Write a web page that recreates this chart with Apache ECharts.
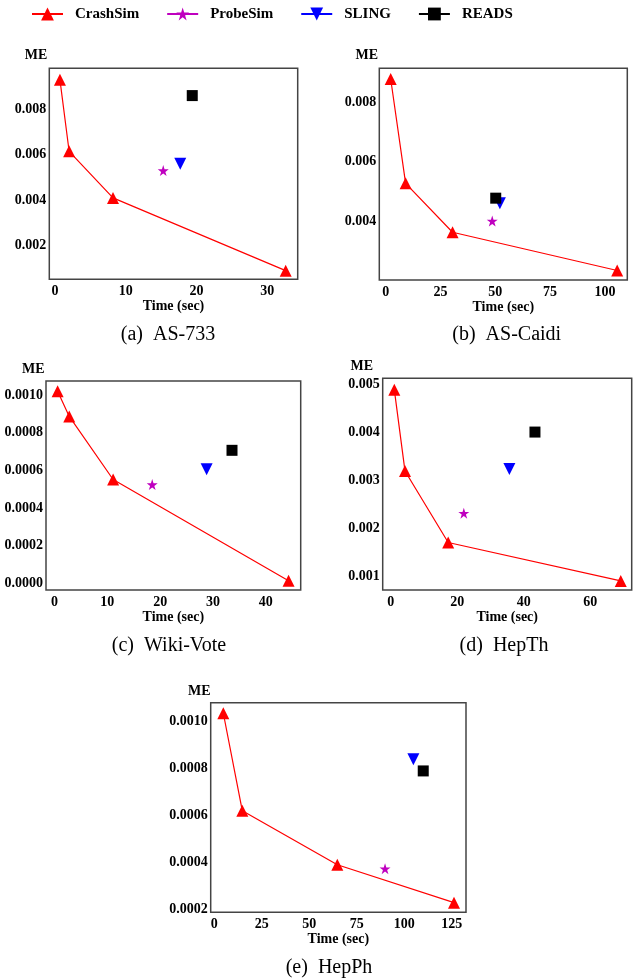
<!DOCTYPE html>
<html>
<head>
<meta charset="utf-8">
<script src="https://cdn.jsdelivr.net/npm/echarts@6/dist/echarts.min.js"></script>
<style>
html,body{margin:0;padding:0;background:#fff;}
#chart{width:640px;height:979px;}
</style>
</head>
<body>
<div id="chart"></div>
<script>
// ---- data ----
const panelNames = ['(a)  AS-733', '(b)  AS-Caidi', '(c)  Wiki-Vote', '(d)  HepTh', '(e)  HepPh'];
const seriesNames = ['CrashSim', 'ProbeSim', 'SLING', 'READS'];
const crashSimTime = [
  [0.7, 2.0, 8.2, 32.6],
  [2.3, 9.1, 30.5, 105.6],
  [0.6, 2.8, 11.1, 44.3],
  [1.1, 4.3, 17.3, 69.2],
  [4.8, 14.8, 64.8, 126.2]
];
const crashSimME = [
  [0.0093, 0.00615, 0.0041, 0.0009],
  [0.00879, 0.00527, 0.00362, 0.00233],
  [0.00102, 0.000886, 0.000551, 0.000014],
  [0.00488, 0.00319, 0.0017, 0.0009],
  [0.001036, 0.00062, 0.00039, 0.000228]
];
const probeSimTime = [15.3, 48.6, 18.5, 22.0, 89.9];
const probeSimME = [0.0053, 0.0040, 0.000524, 0.00231, 0.000373];
const slingTime = [17.7, 52.1, 28.8, 35.7, 104.8];
const slingME = [0.0056, 0.0046, 0.000605, 0.00323, 0.00084];
const readsTime = [19.4, 50.2, 33.6, 43.4, 110];
const readsME = [0.0086, 0.00477, 0.000706, 0.0040, 0.00079];
const xTickValues = [
  [0, 10, 20, 30],
  [0, 25, 50, 75, 100],
  [0, 10, 20, 30, 40],
  [0, 20, 40, 60],
  [0, 25, 50, 75, 100, 125]
];
const yTickValues = [
  [0.002, 0.004, 0.006, 0.008],
  [0.004, 0.006, 0.008],
  [0, 0.0002, 0.0004, 0.0006, 0.0008, 0.0010],
  [0.001, 0.002, 0.003, 0.004, 0.005],
  [0.0002, 0.0004, 0.0006, 0.0008, 0.0010]
];
const yDecimals = [3, 3, 4, 3, 4];

// ---- layout / style ----
const grids = [
  {left: 49.3, top: 68.3, width: 248.4, height: 211},
  {left: 379.3, top: 68.3, width: 248, height: 211.7},
  {left: 46, top: 381, width: 254.7, height: 209},
  {left: 382.7, top: 378.3, width: 249, height: 211.7},
  {left: 210.7, top: 702.7, width: 255.3, height: 209.6}
];
const xRanges = [[-0.8, 34.3], [-2.9, 110.2], [-1.6, 46.6], [-2.4, 72.5], [-1.84, 132.5]];
const yRanges = [[0.00052, 0.0098], [0.00201, 0.00915], [-0.0000355, 0.001074], [0.00071, 0.00512], [0.000187, 0.001081]];
const mePos = [[36, 55], [366.7, 55], [33.3, 369.3], [361.7, 366], [199.3, 691]];
const capPos = [[168, 335], [506.7, 335], [169, 646], [504, 646], [329, 968]];

const FONT = "'Liberation Serif', 'DejaVu Serif', serif";
const FRAME = '#444';
const STAR = 'path://M50,0 L61.2,34.5 L97.6,34.5 L68.2,55.9 L79.4,90.5 L50,69.1 L20.6,90.5 L31.8,55.9 L2.4,34.5 L38.8,34.5 Z';
const colors = {CrashSim: '#ff0000', ProbeSim: '#bf00bf', SLING: '#0000ff', READS: '#000000'};

const option = {
  animation: false,
  backgroundColor: '#fff',
  legend: {
    left: 31, top: 6.5, padding: 0,
    itemWidth: 31, itemHeight: 16, itemGap: 27,
    data: seriesNames,
    textStyle: {fontFamily: FONT, fontWeight: 'bold', fontSize: 15, color: '#000', padding: [0, 0, 0, 7]}
  },
  grid: [], xAxis: [], yAxis: [], series: [], graphic: []
};

for (let i = 0; i < 5; i++) {
  option.grid.push(Object.assign({show: true, borderColor: FRAME, borderWidth: 1.5, backgroundColor: '#fff'}, grids[i]));
  option.xAxis.push({
    type: 'value', gridIndex: i, min: xRanges[i][0], max: xRanges[i][1],
    name: 'Time (sec)', nameLocation: 'middle', nameGap: 16,
    nameTextStyle: {fontFamily: FONT, fontWeight: 'bold', fontSize: 14, color: '#000'},
    axisLine: {show: false},
    splitLine: {show: false},
    axisTick: {show: false},
    axisLabel: {customValues: xTickValues[i], margin: 5, fontFamily: FONT, fontWeight: 'bold', fontSize: 14, color: '#000',
      formatter: v => String(Math.round(v))}
  });
  const dec = yDecimals[i];
  option.yAxis.push({
    type: 'value', gridIndex: i, min: yRanges[i][0], max: yRanges[i][1],
    axisLine: {show: false},
    splitLine: {show: false},
    axisTick: {show: false},
    axisLabel: {customValues: yTickValues[i], margin: 3, fontFamily: FONT, fontWeight: 'bold', fontSize: 14, color: '#000',
      formatter: v => Number(v).toFixed(dec)}
  });
  option.series.push({
    name: 'CrashSim', type: 'line', xAxisIndex: i, yAxisIndex: i,
    data: crashSimTime[i].map((t, k) => [t, crashSimME[i][k]]),
    symbol: 'triangle', symbolSize: 12,
    lineStyle: {color: colors.CrashSim, width: 1.2},
    itemStyle: {color: colors.CrashSim}
  });
  option.series.push({
    name: 'ProbeSim', type: 'line', xAxisIndex: i, yAxisIndex: i,
    data: [[probeSimTime[i], probeSimME[i]]],
    symbol: STAR, symbolSize: 11,
    lineStyle: {color: colors.ProbeSim, width: 1.2},
    itemStyle: {color: colors.ProbeSim}
  });
  option.series.push({
    name: 'SLING', type: 'line', xAxisIndex: i, yAxisIndex: i,
    data: [[slingTime[i], slingME[i]]],
    symbol: 'triangle', symbolRotate: 180, symbolSize: 12,
    lineStyle: {color: colors.SLING, width: 1.2},
    itemStyle: {color: colors.SLING}
  });
  option.series.push({
    name: 'READS', type: 'line', xAxisIndex: i, yAxisIndex: i,
    data: [[readsTime[i], readsME[i]]],
    symbol: 'rect', symbolSize: 11,
    lineStyle: {color: colors.READS, width: 1.2},
    itemStyle: {color: colors.READS}
  });
  option.graphic.push({
    type: 'text', x: mePos[i][0], y: mePos[i][1],
    style: {text: 'ME', fontFamily: FONT, fontWeight: 'bold', fontSize: 14, fill: '#000', align: 'center', verticalAlign: 'middle'}
  });
  option.graphic.push({
    type: 'text', x: capPos[i][0], y: capPos[i][1],
    style: {text: panelNames[i], fontFamily: FONT, fontSize: 20, fill: '#000', align: 'center', verticalAlign: 'middle'}
  });
}

const chart = echarts.init(document.getElementById('chart'), null, {renderer: 'canvas'});
chart.setOption(option);
</script>
</body>
</html>
